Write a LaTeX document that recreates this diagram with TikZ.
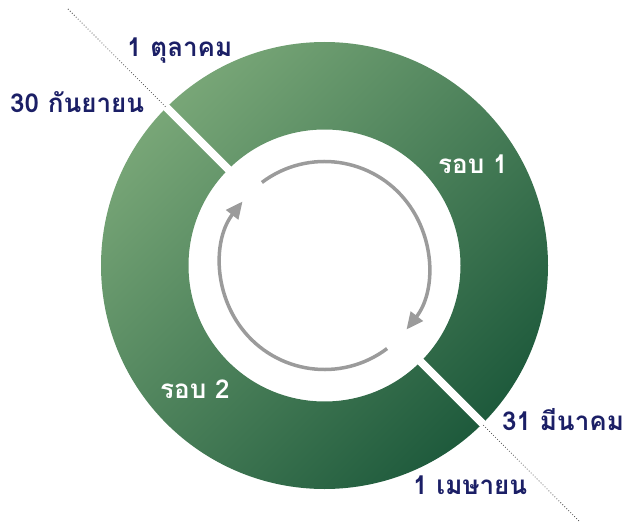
\documentclass[tikz,border=0pt]{standalone}
\usepackage{fontspec}
\newfontfamily\thaifont[Script=Thai]{Loma}
\usetikzlibrary{arrows.meta}
\definecolor{navy}{HTML}{1B1F66}
\definecolor{ringlight}{HTML}{78A677}
\definecolor{ringdark}{HTML}{1E5A3C}
\definecolor{arrgray}{HTML}{9B9B9B}
\tikzset{
  lbl/.style={anchor=base west, inner sep=0pt, font=\thaifont\bfseries\fontsize{26}{30}\selectfont, text=navy},
  wlbl/.style={lbl, text=white},
  cyc/.style={draw=arrgray, line width=3.5pt, -{Triangle[length=17pt,width=15pt]}},
  dotline/.style={draw=black!70, line width=0.8pt, dash pattern=on 0.8pt off 2pt}
}
\begin{document}
\begin{tikzpicture}[x=1pt,y=1pt]
\useasboundingbox (0,0) rectangle (629,523);
\coordinate (C) at (324.5,257.5);
\coordinate (D1) at (68,514);
\coordinate (D2) at (580,1);
\coordinate (G1) at (166.1,415.9);
\coordinate (G2) at (482.9,99.1);
\draw[dotline] (D1) -- (D2);
\shade[even odd rule, left color=ringlight, right color=ringdark, shading angle=45]
  (C) circle (223.5) (C) circle (136);
\draw[white, line width=8pt] (G1) -- (G2);
\draw[cyc] (C) ++(127:104) arc[start angle=127, end angle=-38, radius=104];
\draw[cyc] (C) ++(-53:104) arc[start angle=-53, end angle=-218, radius=104];
\node[lbl] (oct) at (127,466) {1 ตุลาคม};
\node[lbl] (sep) at (10,410) {30 กันยายน};
\node[wlbl] (r1) at (438,349) {รอบ 1};
\node[wlbl] (r2) at (160,125) {รอบ 2};
\node[lbl] (mar) at (502,93) {31 มีนาคม};
\node[lbl] (apr) at (413,29) {1 เมษายน};
\end{tikzpicture}
\end{document}
